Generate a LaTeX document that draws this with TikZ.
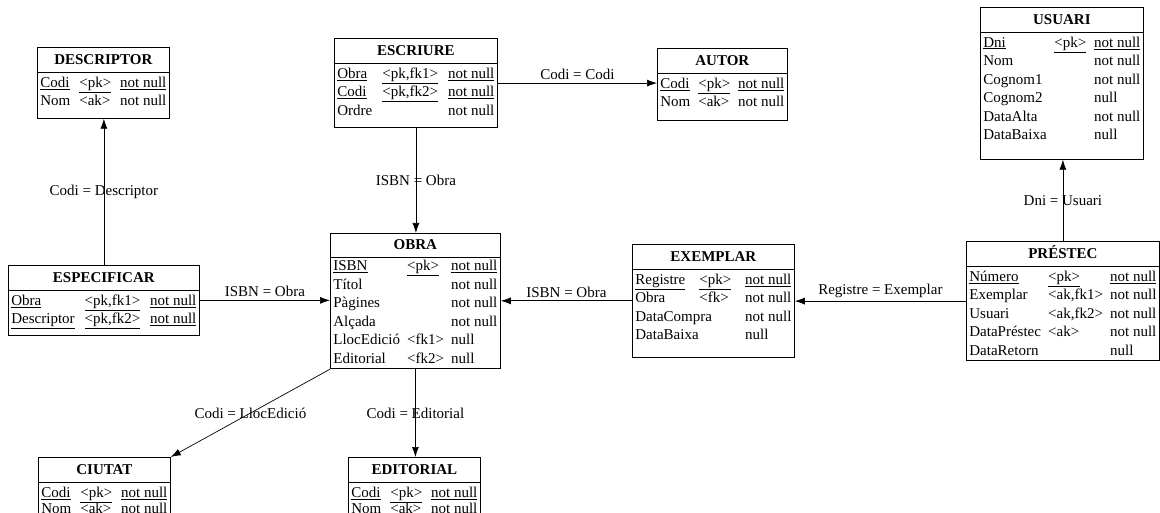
\documentclass[tikz,border=0pt]{standalone}
\usepackage{fontspec}
\setmainfont{Liberation Serif}
\usetikzlibrary{arrows.meta}
\setlength{\tabcolsep}{3pt}
\setlength{\arrayrulewidth}{0.8pt}

\begin{document}
\begin{tikzpicture}[
  x=1pt, y=-1pt,
  font=\fontsize{15}{18.5}\selectfont,
  >={Latex[length=10pt,width=7pt]},
  tbl/.style={draw, line width=0.8pt, inner sep=0pt, anchor=north west},
  fk/.style={->, line width=0.7pt},
  lbl/.style={inner sep=1pt},
]
\useasboundingbox (0,0) rectangle (1160,513);

%% ===== TOP ROW =====
\node[tbl] (descriptor) at (37,47)
  {\begin{tabular*}{132pt}{@{\extracolsep{\fill}\hspace{3pt}}lll@{\hspace{3pt}}}
     \multicolumn{3}{c}{\rule{0pt}{17pt}\textbf{DESCRIPTOR}}\\[2pt] \hline
     \rule{0pt}{14.5pt}\underline{Codi} & \underline{<pk>} & \underline{not null}\\
     Nom & <ak> & not null\\[7pt]
   \end{tabular*}};

\node[tbl] (escriure) at (334,38)
  {\begin{tabular*}{163pt}{@{\extracolsep{\fill}\hspace{3pt}}lll@{\hspace{3pt}}}
     \multicolumn{3}{c}{\rule{0pt}{17pt}\textbf{ESCRIURE}}\\[2pt] \hline
     \rule{0pt}{14.5pt}\underline{Obra} & \underline{<pk,fk1>} & \underline{not null}\\
     \underline{Codi} & \underline{<pk,fk2>} & \underline{not null}\\
     Ordre & & not null\\[7pt]
   \end{tabular*}};

\node[tbl] (autor) at (657,48)
  {\begin{tabular*}{130pt}{@{\extracolsep{\fill}\hspace{3pt}}lll@{\hspace{3pt}}}
     \multicolumn{3}{c}{\rule{0pt}{17pt}\textbf{AUTOR}}\\[2pt] \hline
     \rule{0pt}{14.5pt}\underline{Codi} & \underline{<pk>} & \underline{not null}\\
     Nom & <ak> & not null\\[8pt]
   \end{tabular*}};

\node[tbl] (usuari) at (980,7)
  {\begin{tabular*}{163pt}{@{\extracolsep{\fill}\hspace{3pt}}lll@{\hspace{3pt}}}
     \multicolumn{3}{c}{\rule{0pt}{17pt}\textbf{USUARI}}\\[2pt] \hline
     \rule{0pt}{14.5pt}\underline{Dni} & \underline{<pk>} & \underline{not null}\\
     Nom & & not null\\
     Cognom1 & & not null\\
     Cognom2 & & null\\
     DataAlta & & not null\\
     DataBaixa & & null\\[14pt]
   \end{tabular*}};

%% ===== MIDDLE ROW =====
\node[tbl] (especificar) at (8,265)
  {\begin{tabular*}{191pt}{@{\extracolsep{\fill}\hspace{3pt}}lll@{\hspace{3pt}}}
     \multicolumn{3}{c}{\rule{0pt}{17pt}\textbf{ESPECIFICAR}}\\[2pt] \hline
     \rule{0pt}{14.5pt}\underline{Obra} & \underline{<pk,fk1>} & \underline{not null}\\
     \underline{Descriptor} & \underline{<pk,fk2>} & \underline{not null}\\[6pt]
   \end{tabular*}};

\node[tbl] (obra) at (330,233)
  {\begin{tabular*}{170pt}{@{\extracolsep{\fill}\hspace{3pt}}lll@{\hspace{3pt}}}
     \multicolumn{3}{c}{\rule{0pt}{16pt}\textbf{OBRA}}\\[2pt] \hline
     \rule{0pt}{13pt}\underline{ISBN} & \underline{<pk>} & \underline{not null}\\
     Títol & & not null\\
     Pàgines & & not null\\
     Alçada & & not null\\
     LlocEdició & <fk1> & null\\
     Editorial & <fk2> & null\\
   \end{tabular*}};

\node[tbl] (exemplar) at (632,244)
  {\begin{tabular*}{162pt}{@{\extracolsep{\fill}\hspace{3pt}}lll@{\hspace{3pt}}}
     \multicolumn{3}{c}{\rule{0pt}{17pt}\textbf{EXEMPLAR}}\\[2pt] \hline
     \rule{0pt}{14.5pt}\underline{Registre} & \underline{<pk>} & \underline{not null}\\
     Obra & <fk> & not null\\
     \multicolumn{2}{l}{DataCompra} & not null\\
     \multicolumn{2}{l}{DataBaixa} & null\\[12pt]
   \end{tabular*}};

\node[tbl] (prestec) at (966,241)
  {\begin{tabular*}{193pt}{@{\extracolsep{\fill}\hspace{3pt}}lll@{\hspace{3pt}}}
     \multicolumn{3}{c}{\rule{0pt}{17pt}\textbf{PRÉSTEC}}\\[2pt] \hline
     \rule{0pt}{14.5pt}\underline{Número} & \underline{<pk>} & \underline{not null}\\
     Exemplar & <ak,fk1> & not null\\
     Usuari & <ak,fk2> & not null\\
     DataPréstec & <ak> & not null\\
     DataRetorn & & null\\
   \end{tabular*}};

%% ===== BOTTOM ROW =====
\node[tbl] (ciutat) at (38,457)
  {\begin{tabular*}{132pt}{@{\extracolsep{\fill}\hspace{3pt}}lll@{\hspace{3pt}}}
     \multicolumn{3}{c}{\rule{0pt}{17pt}\textbf{CIUTAT}}\\[2pt] \hline
     \rule{0pt}{14.5pt}\underline{Codi} & \underline{<pk>} & \underline{not null}\\[-2.5pt]
     Nom & <ak> & not null\\[8pt]
   \end{tabular*}};

\node[tbl] (editorial) at (348,457)
  {\begin{tabular*}{132pt}{@{\extracolsep{\fill}\hspace{3pt}}lll@{\hspace{3pt}}}
     \multicolumn{3}{c}{\rule{0pt}{17pt}\textbf{EDITORIAL}}\\[2pt] \hline
     \rule{0pt}{14.5pt}\underline{Codi} & \underline{<pk>} & \underline{not null}\\[-2.5pt]
     Nom & <ak> & not null\\[8pt]
   \end{tabular*}};

%% ===== REFERENCES =====
\draw[fk] (especificar.north) -- node[lbl] {Codi = Descriptor} (especificar.north |- descriptor.south);
\draw[fk] (especificar.east) -- node[lbl, above=2pt] {ISBN = Obra} (especificar.east -| obra.west);
\draw[fk] (escriure.south) -- node[lbl] {ISBN = Obra} (escriure.south |- obra.north);
\draw[fk] (escriure.east) -- node[lbl, above=2pt] {Codi = Codi} (escriure.east -| autor.west);
\draw[fk] (exemplar.west) -- node[lbl, above=2pt] {ISBN = Obra} (exemplar.west -| obra.east);
\draw[fk] (prestec.west) -- node[lbl, above=2pt] {Registre = Exemplar} (prestec.west -| exemplar.east);
\draw[fk] (prestec.north) -- node[lbl] {Dni = Usuari} (prestec.north |- usuari.south);
\draw[fk] (obra.south west) -- node[lbl] {Codi = LlocEdició} (ciutat.north east);
\draw[fk] (obra.south) -- node[lbl] {Codi = Editorial} (obra.south |- editorial.north);

\end{tikzpicture}
\end{document}
